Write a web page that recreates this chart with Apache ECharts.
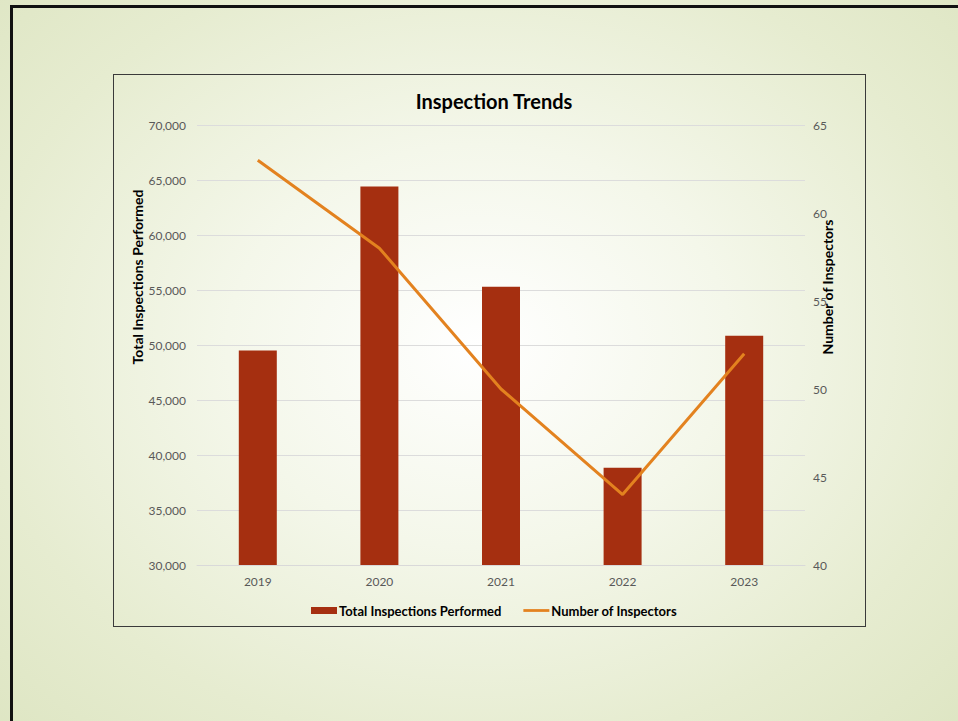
<!DOCTYPE html>
<html>
<head>
<meta charset="utf-8">
<script src="https://cdn.jsdelivr.net/npm/echarts@6/dist/echarts.min.js"></script>
<style>
  html, body { margin: 0; padding: 0; width: 958px; height: 721px; overflow: hidden; }
  body { background: radial-gradient(ellipse 75% 80% at 50% 48%, #ffffff 0%, #f4f7ea 35%, #e6ecd0 70%, #dce4c0 100%); }
  #frame { position: absolute; left: 10px; top: 5px; width: 1000px; height: 800px; border-left: 3px solid #111; border-top: 3px solid #111; box-sizing: border-box; }
  #box { position: absolute; left: 113px; top: 74px; width: 753px; height: 553px; border: 1px solid #3a3a3a; box-sizing: border-box; }
  #chart { position: absolute; left: 0; top: 0; width: 958px; height: 721px; }
</style>
</head>
<body>
<div id="frame"></div>
<div id="box"></div>
<div id="chart"></div>
<script>
const years = ['2019', '2020', '2021', '2022', '2023'];
const totalInspections = [49500, 64400, 55300, 38850, 50850];
const numInspectors = [63, 58, 50, 44, 52];
const leftTicks = { min: 30000, max: 70000, interval: 5000 };
const rightTicks = { min: 40, max: 65, interval: 5 };

const FONT = 'Lato, "Liberation Sans", sans-serif';
const chart = echarts.init(document.getElementById('chart'), null, { renderer: 'svg' });
chart.setOption({
  backgroundColor: 'transparent',
  animation: false,
  textStyle: { fontFamily: FONT },
  title: {
    text: 'Inspection Trends',
    left: 489, top: 86, textAlign: 'center',
    textStyle: { fontFamily: FONT, fontSize: 20, fontWeight: 'bold', color: '#000' }
  },
  legend: {
    left: 306, top: 599,
    itemGap: 22, itemWidth: 26, itemHeight: 7,
    textStyle: { fontFamily: FONT, fontSize: 13, fontWeight: 'bold', color: '#000', padding: [0, 0, 0, -3] },
    data: [
      { name: 'Total Inspections Performed', icon: 'rect' },
      { name: 'Number of Inspectors', icon: 'path://M0,0H28V3H0Z' }
    ]
  },
  grid: { left: 197, right: 153, top: 125, bottom: 156 },
  xAxis: {
    type: 'category', data: years,
    axisTick: { show: false },
    axisLine: { show: true, lineStyle: { color: '#d9d9d9' } },
    axisLabel: { color: '#595959', fontSize: 12, margin: 10, fontFamily: FONT }
  },
  yAxis: [
    {
      type: 'value', min: leftTicks.min, max: leftTicks.max, interval: leftTicks.interval,
      axisLine: { show: false }, axisTick: { show: false },
      splitLine: { lineStyle: { color: '#dcdcdc' } },
      axisLabel: { color: '#595959', fontSize: 12, margin: 11, fontFamily: FONT,
        formatter: v => v.toLocaleString('en-US') }
    },
    {
      type: 'value', min: rightTicks.min, max: rightTicks.max, interval: rightTicks.interval,
      axisLine: { show: false }, axisTick: { show: false }, splitLine: { show: false },
      axisLabel: { color: '#595959', fontSize: 12, margin: 8, fontFamily: FONT }
    }
  ],
  series: [
    {
      name: 'Total Inspections Performed', type: 'bar', data: totalInspections,
      barWidth: 38, itemStyle: { color: '#a52f10' }
    },
    {
      name: 'Number of Inspectors', type: 'line', yAxisIndex: 1, data: numInspectors,
      symbol: 'none', lineStyle: { color: '#e3821f', width: 3 }, itemStyle: { color: '#e3821f' }
    }
  ],
  graphic: [
    { type: 'text', x: 137, y: 277, rotation: Math.PI / 2,
      style: { text: 'Total Inspections Performed', fontFamily: FONT, fontSize: 14, fontWeight: 'bold', fill: '#000', align: 'center', verticalAlign: 'middle' } },
    { type: 'text', x: 827, y: 287, rotation: Math.PI / 2,
      style: { text: 'Number of Inspectors', fontFamily: FONT, fontSize: 14, fontWeight: 'bold', fill: '#000', align: 'center', verticalAlign: 'middle' } }
  ]
});
</script>
</body>
</html>
